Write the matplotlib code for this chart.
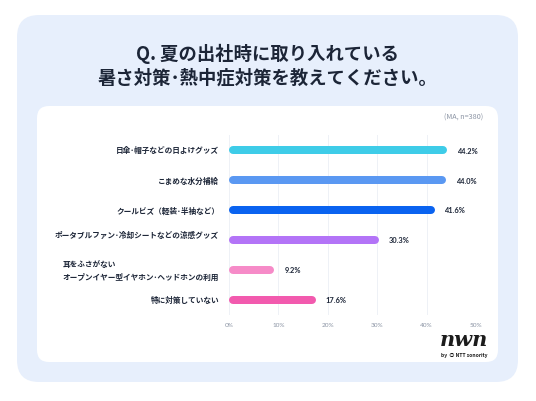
import matplotlib.pyplot as plt
from matplotlib.patches import FancyBboxPatch

plt.rcParams['font.family'] = ['Noto Sans CJK JP', 'DejaVu Sans']

title = "Q. 夏の出社時に取り入れている\n暑さ対策･熱中症対策を教えてください。"
note = "(MA, n=380)"
categories = [
    "日傘･帽子などの日よけグッズ",
    "こまめな水分補給",
    "クールビズ（軽装･半袖など）",
    "ポータブルファン･冷却シートなどの涼感グッズ",
    "耳をふさがない\nオープンイヤー型イヤホン･ヘッドホンの利用",
    "特に対策していない",
]
values = [44.2, 44.0, 41.6, 30.3, 9.2, 17.6]
colors = ["#3ECCE8", "#5A98F2", "#0A63F0", "#B374F7", "#F68BC8", "#F25AAE"]
xticks = [0, 10, 20, 30, 40, 50]

W, H = 536, 402
fig = plt.figure(figsize=(W / 100, H / 100), dpi=100)
fig.patch.set_facecolor("white")

# background panels (pixel coords -> figure fraction)
def box(x0, y0, x1, y1, color, r):
    p = FancyBboxPatch((x0 / W, 1 - y1 / H), (x1 - x0) / W, (y1 - y0) / H,
                       boxstyle=f"round,pad=0,rounding_size={r / W}",
                       transform=fig.transFigure, facecolor=color,
                       edgecolor="none", zorder=0, mutation_aspect=W / H)
    fig.add_artist(p)

box(17, 16, 518, 383, "#E7EFFC", 22)
box(37, 107, 498, 363, "white", 12)

fig.text(0.5, 1 - 66 / H, title, ha="center", va="center", fontsize=13.2,
         fontweight="bold", color="#1C2537", linespacing=1.3)
fig.text(483 / W, 1 - 118 / H, note, ha="right", va="center", fontsize=5.2,
         color="#8A93A3")

ax = fig.add_axes([229 / W, 1 - 316 / H, 247 / W, 180 / H])
ax.set_xlim(0, 50)
ax.set_ylim(5.5, -0.5)

bar_px = 8
r = (bar_px / 2) / (247 / 50)  # cap radius in data units
for i, (v, c) in enumerate(zip(values, colors)):
    ax.plot([r, v - r], [i, i], color=c, lw=bar_px * 0.72,
            solid_capstyle="round", zorder=3)
    ax.text(v + 2.0, i, f"{v:.1f}%", ha="left", va="center", fontsize=5.4,
            fontweight="bold", color="#1C2537", family=["Lato", "DejaVu Sans"])

for i, lab in enumerate(categories):
    dy = -0.17 if i == 3 else 0
    ax.text(-2.0, i + dy, lab, ha="right", va="center", fontsize=5.5,
            fontweight="bold", color="#1C2537", multialignment="left",
            linespacing=1.5)

ax.set_xticks(xticks)
ax.set_xticklabels([f"{t}%" for t in xticks], fontsize=4.6, color="#8A93A3",
                   family=["Lato", "DejaVu Sans"])
ax.set_yticks([])
ax.tick_params(axis="x", length=0, pad=5)
ax.grid(axis="x", color="#EEF1F6", lw=0.7)
ax.set_axisbelow(True)
for s in ax.spines.values():
    s.set_visible(False)
ax.set_facecolor("none")

# logo
fig.text(464 / W, 1 - 340 / H, "nwn", ha="center", va="center", fontsize=15,
         family="DejaVu Serif", style="italic", fontweight="bold", color="#1C1C1C")
fig.text(464 / W, 1 - 356 / H, "by  ◎ NTT sonority", ha="center", va="center",
         fontsize=3.6, fontweight="bold", color="#1C1C1C")

fig.savefig("out.png", dpi=100, facecolor="white")
